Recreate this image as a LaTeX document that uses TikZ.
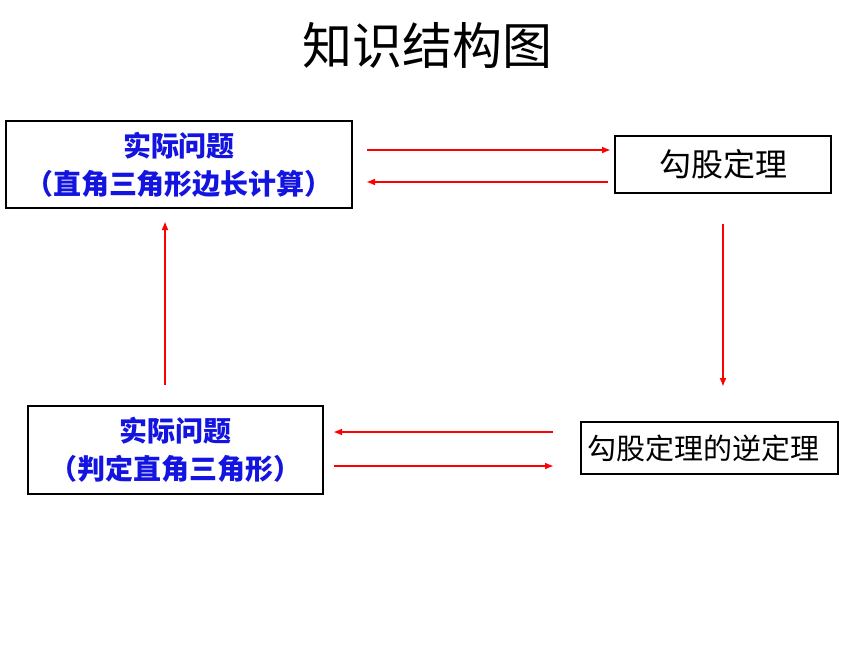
\documentclass[tikz,border=0pt]{standalone}
\usepackage{fontspec}
\newfontfamily\cjk{Noto Sans CJK SC}
\usetikzlibrary{arrows.meta}
\definecolor{txtblue}{RGB}{20,20,225}
\definecolor{arrred}{RGB}{255,0,0}
\tikzset{
  box/.style={draw=black, line width=2.2pt, inner sep=0pt, align=center},
  bluetxt/.style={text=txtblue, font=\cjk\bfseries\fontsize{28}{38}\selectfont},
  blacktxt/.style={text=black, font=\cjk\fontsize{29}{34}\selectfont},
  arr/.style={draw=arrred, line width=2.6pt, -{Latex[length=9pt,width=7pt]}}
}
\begin{document}
\begin{tikzpicture}[x=1pt,y=-1pt]
\useasboundingbox (0,0) rectangle (860,645);
\node[font=\cjk\fontsize{50}{56}\selectfont] (title) at (427,45) {知识结构图};

\node[box, bluetxt, minimum width=346pt, minimum height=87pt] (b1) at (179,164.5) {实际问题\\（直角三角形边长计算）};
\node[box, blacktxt, font=\cjk\fontsize{32}{34}\selectfont, minimum width=216pt, minimum height=57pt] (b2) at (723,164.5) {勾股定理};
\node[box, bluetxt, minimum width=295pt, minimum height=88pt] (b3) at (175.5,450) {实际问题\\（判定直角三角形）};
\node[box, blacktxt, minimum width=257pt, minimum height=52pt, text width=245pt, align=left] (b4) at (709.5,448) {勾股定理的逆定理};

\coordinate (a1s) at (367,150);
\coordinate (a1e) at (611,150);
\coordinate (a2s) at (608,182);
\coordinate (a2e) at (366,182);
\coordinate (a3s) at (723,224);
\coordinate (a3e) at (723,387);
\coordinate (a4s) at (553,432);
\coordinate (a4e) at (333,432);
\coordinate (a5s) at (334,466);
\coordinate (a5e) at (554,466);
\coordinate (a6s) at (165,385);
\coordinate (a6e) at (165,221);

\draw[arr] (a1s) -- (a1e);
\draw[arr] (a2s) -- (a2e);
\draw[arr] (a3s) -- (a3e);
\draw[arr] (a4s) -- (a4e);
\draw[arr] (a5s) -- (a5e);
\draw[arr] (a6s) -- (a6e);
\end{tikzpicture}
\end{document}
